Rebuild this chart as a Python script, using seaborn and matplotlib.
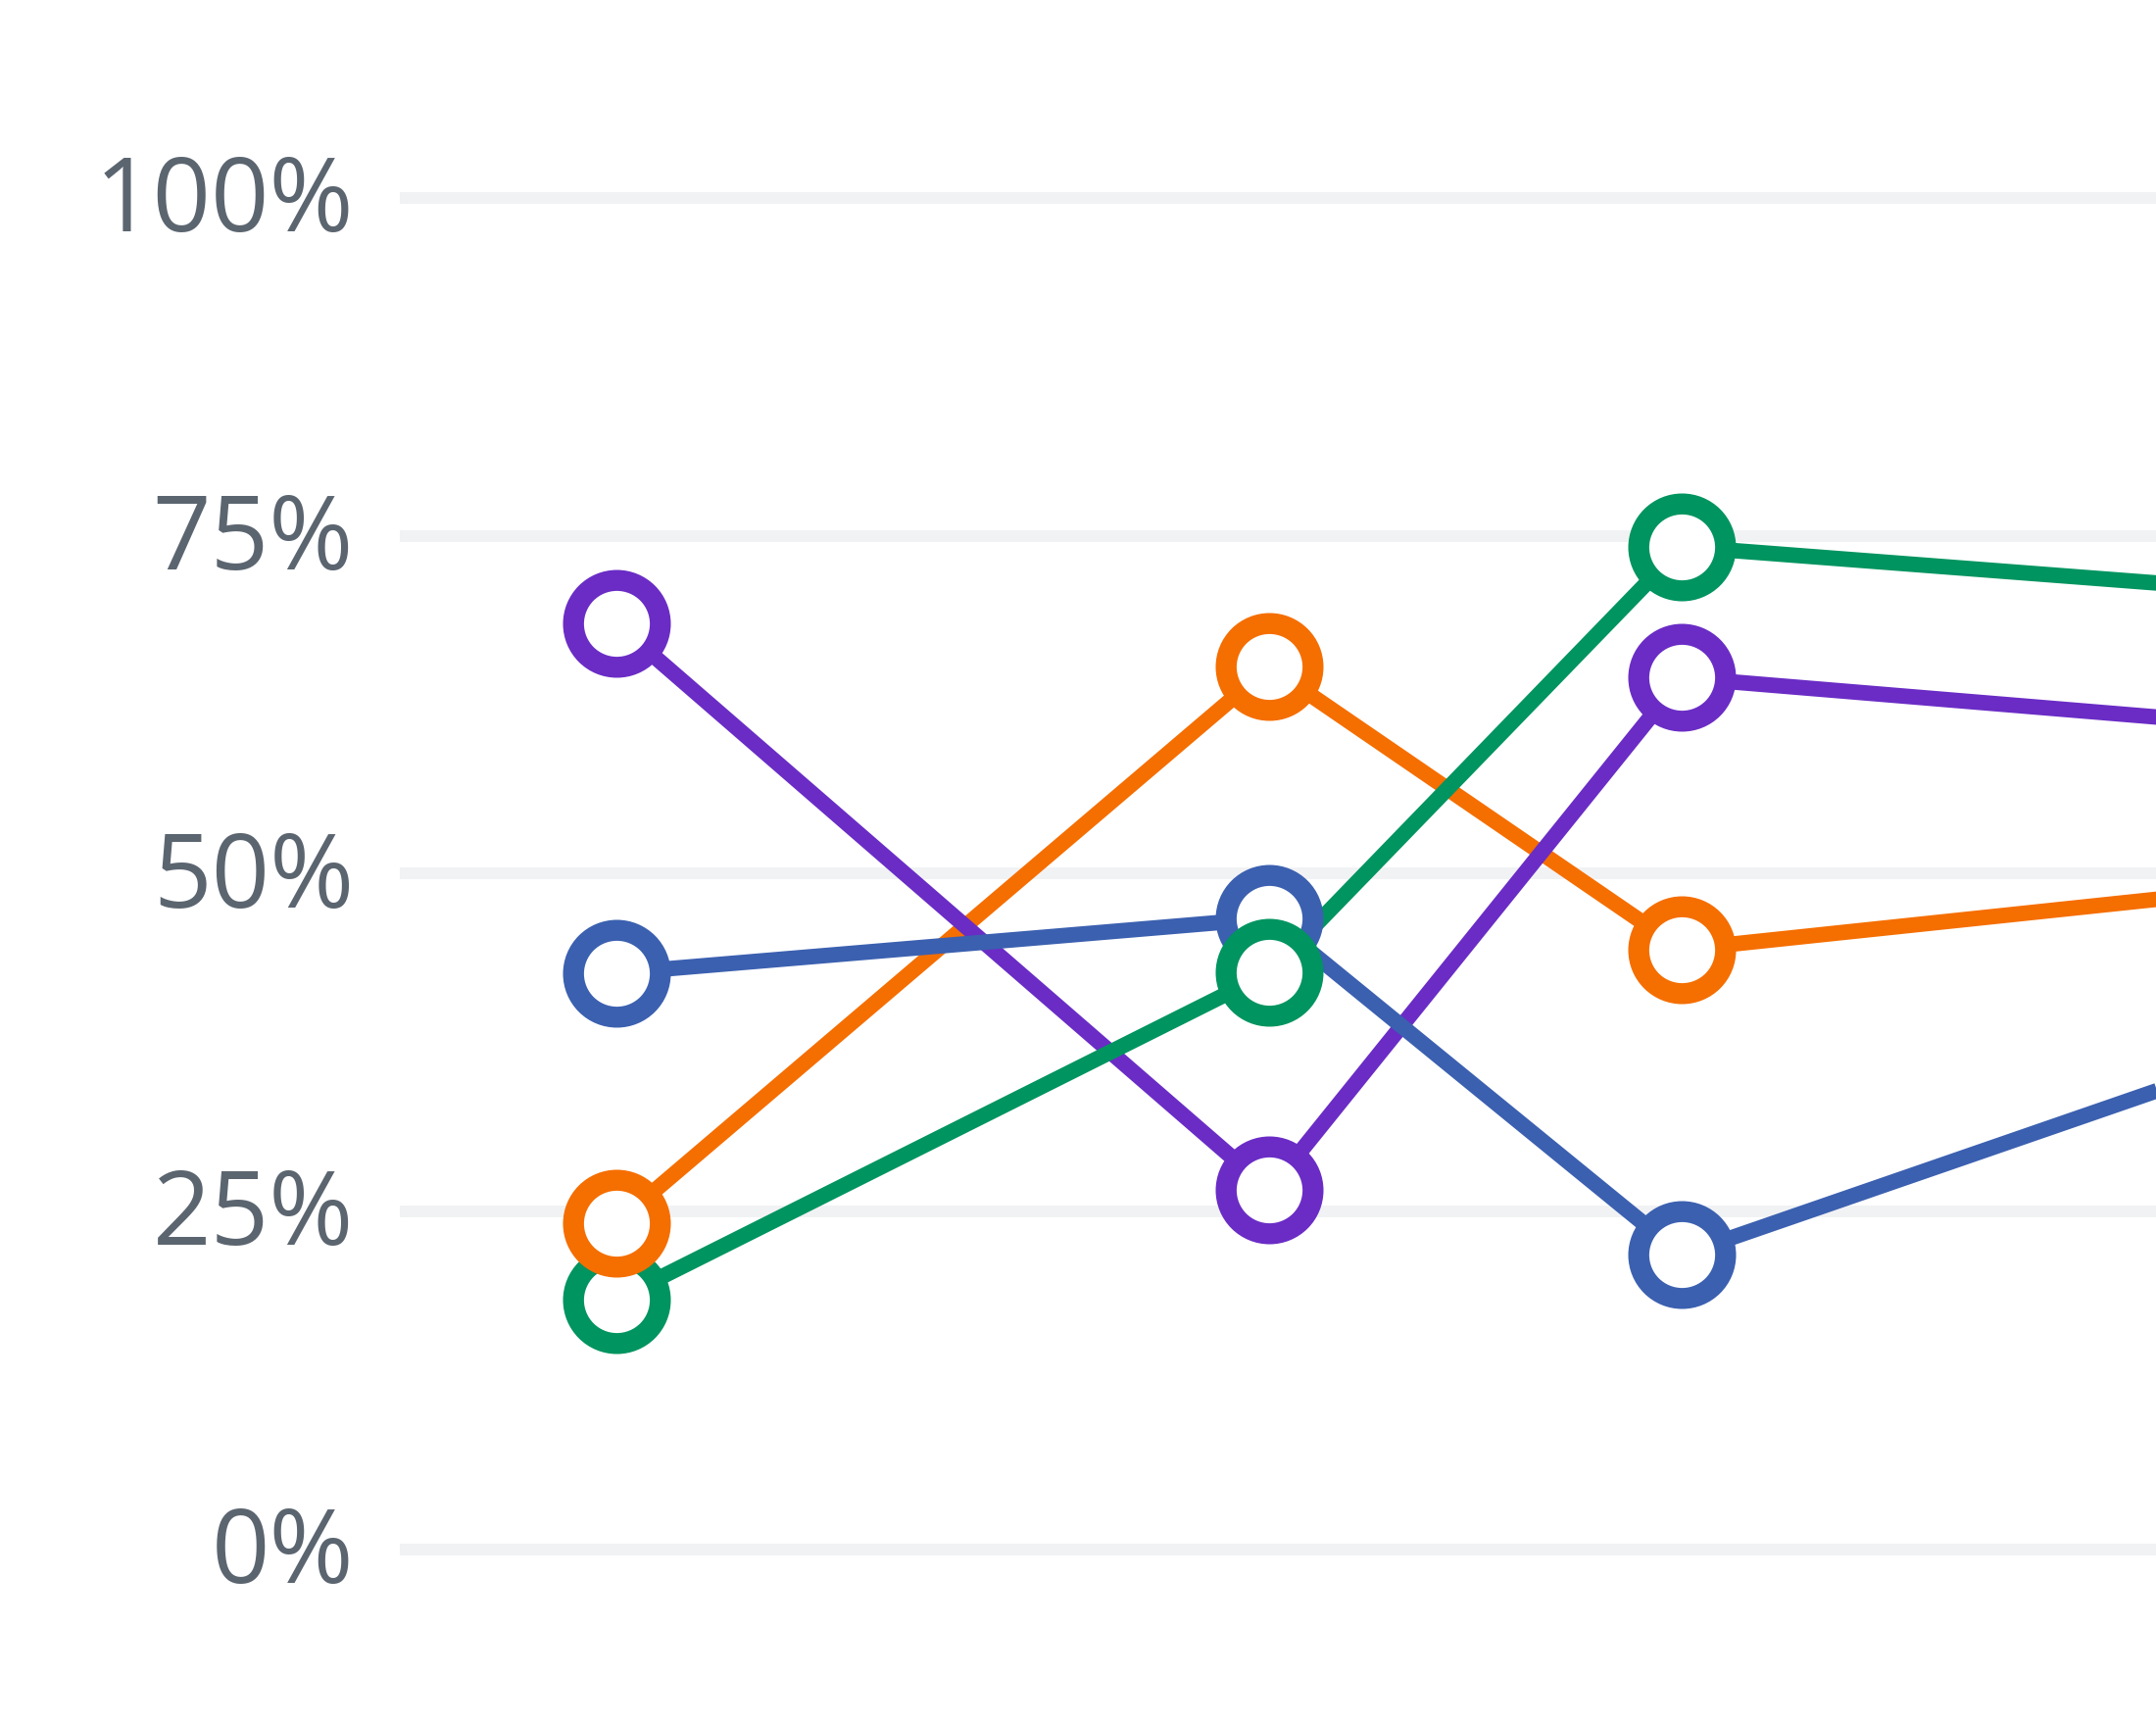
import pandas as pd
import matplotlib
matplotlib.use('Agg')
import matplotlib.pyplot as plt
import matplotlib.transforms as mtransforms
import seaborn as sns

# x positions (uneven spacing) and series values in percent
x_vals = [0, 19, 31, 50]
purple_vals = [68.5, 26.6, 64.5, 60.5]
orange_vals = [24.15, 65.3, 44.4, 49.5]
blue_vals = [42.65, 46.7, 21.8, 38.5]
green_vals = [18.5, 42.7, 74.2, 70.5]
y_ticks = [0, 25, 50, 75, 100]
y_labels = ['0%', '25%', '50%', '75%', '100%']

colors = {'Purple': '#6a2cc5', 'Orange': '#f56e00', 'Blue': '#3b60b0', 'Green': '#009460'}

df = pd.DataFrame({
    'x': x_vals * 4,
    'value': purple_vals + orange_vals + blue_vals + green_vals,
    'series': ['Purple'] * 4 + ['Orange'] * 4 + ['Blue'] * 4 + ['Green'] * 4,
})

sns.set_style('white')
plt.rcParams['font.family'] = ['Open Sans', 'DejaVu Sans']

fig = plt.figure(figsize=(11, 8.8), dpi=200)
ax = fig.add_axes([0.1855, 0.0234, 1.057, 0.9402])

# lines first, in the stacking order seen in the picture
line_order = ['Orange', 'Purple', 'Green', 'Blue']
sns.lineplot(data=df, x='x', y='value', hue='series', hue_order=line_order,
             palette=colors, linewidth=5.7, legend=False, ax=ax, zorder=2)
for ln in ax.lines:
    ln.set_linewidth(5.7)
    ln.set_solid_capstyle('butt')

# hollow markers on top
marker_order = ['Blue', 'Green', 'Orange', 'Purple']
for name in marker_order:
    sub = df[df['series'] == name]
    ax.plot(sub['x'], sub['value'], linestyle='none', marker='o', markersize=31.9,
            markerfacecolor='white', markeredgecolor=colors[name], markeredgewidth=7.7,
            zorder=3)

ax.set_xlim(-6.3, 60)
ax.set_ylim(-10, 110)
ax.set_yticks(y_ticks)
ax.set_yticklabels(y_labels)
ax.set_xticks([])
ax.set_xlabel('')
ax.set_ylabel('')
ax.yaxis.grid(True, color='#f1f2f4', linewidth=4.3)
ax.xaxis.grid(False)
ax.set_axisbelow(True)
ax.tick_params(axis='y', length=0, pad=17, labelsize=37.5, labelcolor='#5b6570')
shift = mtransforms.ScaledTranslation(0, 2.0 / 72, fig.dpi_scale_trans)
for lab in ax.get_yticklabels():
    lab.set_transform(lab.get_transform() + shift)
for s in ax.spines.values():
    s.set_visible(False)

fig.savefig('out.png', dpi=200)
